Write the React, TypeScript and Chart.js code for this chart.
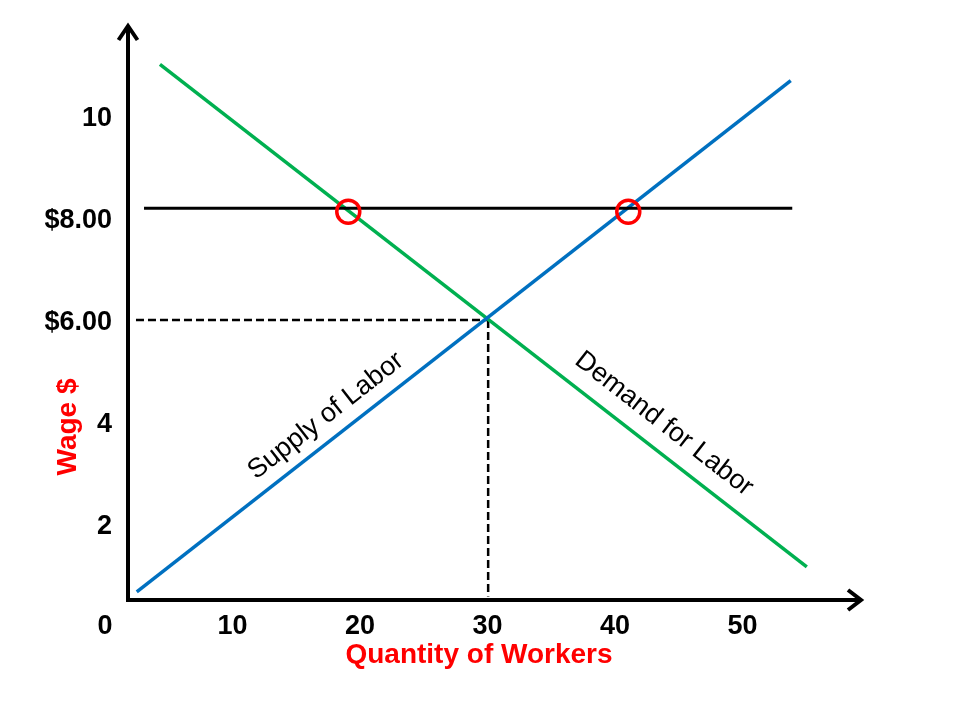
import React, { useEffect, useRef } from "react";
import { Chart, registerables } from "chart.js";

Chart.register(...registerables);

// ---- tick labels ----
const xTickValues = [0, 10, 20, 30, 40, 50];
const xTickLabels = ["0", "10", "20", "30", "40", "50"];
const yTickValues = [2, 4, 6, 8, 10];
const yTickLabels = ["2", "4", "$6.00", "$8.00", "10"];

// ---- series ----
const supplyX = [2.49, 53.78];
const supplyY = [0.69, 10.71];
const demandX = [4.31, 55.04];
const demandY = [11.03, 1.18];
const minWageX = [3.06, 53.9];
const minWageY = [8.21, 8.21];
const eqGuideHX = [2.43, 30.05];
const eqGuideHY = [6.02, 6.02];
const eqGuideVX = [30.05, 30.05];
const eqGuideVY = [6.02, 0.6];
const markerX = [19.08, 41.04];
const markerY = [8.14, 8.14];

// ---- text ----
const xTitle = "Quantity of Workers";
const yTitle = "Wage $";
const supplyLabel = "Supply of Labor";
const demandLabel = "Demand for Labor";

const X_MIN = 1.804;
const X_MAX = 59.37;
const Y_MIN = 0.53;
const Y_MAX = 11.8;

const FONT = '"Liberation Sans", Arial, Helvetica, sans-serif';
const BLUE = "#0070C0";
const GREEN = "#00B050";
const RED = "#FF0000";

const pts = (xs: number[], ys: number[]) => xs.map((x, i) => ({ x, y: ys[i] }));

const overlay = {
  id: "overlay",
  afterDraw(chart: any) {
    const { ctx, chartArea: a, scales } = chart;
    const sx = scales.x;
    const sy = scales.y;
    ctx.save();
    // axes
    ctx.strokeStyle = "#000";
    ctx.lineWidth = 4;
    ctx.lineCap = "butt";
    ctx.lineJoin = "miter";
    ctx.beginPath();
    ctx.moveTo(a.left, a.top + 1);
    ctx.lineTo(a.left, a.bottom);
    ctx.lineTo(a.right - 1, a.bottom);
    ctx.stroke();
    // arrow heads
    ctx.beginPath();
    ctx.moveTo(a.left - 9.5, a.top + 15);
    ctx.lineTo(a.left, a.top + 1);
    ctx.lineTo(a.left + 9.5, a.top + 15);
    ctx.moveTo(a.right - 14, a.bottom - 10);
    ctx.lineTo(a.right - 1, a.bottom);
    ctx.lineTo(a.right - 14, a.bottom + 10);
    ctx.stroke();

    // axis titles
    ctx.fillStyle = RED;
    ctx.font = `bold 28px ${FONT}`;
    ctx.textAlign = "center";
    ctx.textBaseline = "middle";
    ctx.fillText(xTitle, 479, 655);
    ctx.save();
    ctx.translate(68, 427);
    ctx.rotate(-Math.PI / 2);
    ctx.fillText(yTitle, 0, 0);
    ctx.restore();

    // line labels, rotated along their lines
    const drawAlong = (text: string, xs: number[], ys: number[], cx: number, cy: number) => {
      const x1 = sx.getPixelForValue(xs[0]);
      const y1 = sy.getPixelForValue(ys[0]);
      const x2 = sx.getPixelForValue(xs[1]);
      const y2 = sy.getPixelForValue(ys[1]);
      let ang = Math.atan2(y2 - y1, x2 - x1);
      if (ang > Math.PI / 2) ang -= Math.PI;
      if (ang < -Math.PI / 2) ang += Math.PI;
      ctx.save();
      ctx.translate(sx.getPixelForValue(cx), sy.getPixelForValue(cy));
      ctx.rotate(ang);
      ctx.fillStyle = "#000";
      ctx.font = `27px ${FONT}`;
      ctx.textAlign = "center";
      ctx.textBaseline = "middle";
      ctx.fillText(text, 0, 0);
      ctx.restore();
    };
    drawAlong(supplyLabel, supplyX, supplyY, 17.33, 4.14);
    drawAlong(demandLabel, demandX, demandY, 43.84, 3.98);
    ctx.restore();
  },
};

export default function App() {
  const ref = useRef<HTMLCanvasElement | null>(null);
  useEffect(() => {
    if (!ref.current) return;
    const tickFont = { family: FONT, size: 27, weight: "bold" as const };
    const chart = new Chart(ref.current, {
      type: "scatter",
      data: {
        datasets: [
          {
            label: "Markers",
            data: pts(markerX, markerY),
            showLine: false,
            pointRadius: 11.5,
            pointHoverRadius: 11.5,
            pointBorderWidth: 3.5,
            pointBorderColor: RED,
            pointBackgroundColor: "rgba(0,0,0,0)",
            order: 0,
          },
          {
            label: "Minimum wage",
            data: pts(minWageX, minWageY),
            showLine: true,
            borderColor: "#000",
            borderWidth: 3,
            pointRadius: 0,
            order: 1,
          },
          {
            label: "Supply of Labor",
            data: pts(supplyX, supplyY),
            showLine: true,
            borderColor: BLUE,
            borderWidth: 3.5,
            pointRadius: 0,
            order: 2,
          },
          {
            label: "Demand for Labor",
            data: pts(demandX, demandY),
            showLine: true,
            borderColor: GREEN,
            borderWidth: 3.5,
            pointRadius: 0,
            order: 3,
          },
          {
            label: "Guide H",
            data: pts(eqGuideHX, eqGuideHY),
            showLine: true,
            borderColor: "#000",
            borderWidth: 2.5,
            borderDash: [8, 4],
            pointRadius: 0,
            order: 4,
          },
          {
            label: "Guide V",
            data: pts(eqGuideVX, eqGuideVY),
            showLine: true,
            borderColor: "#000",
            borderWidth: 2.5,
            borderDash: [8, 4],
            pointRadius: 0,
            order: 4,
          },
        ],
      },
      options: {
        responsive: false,
        animation: false,
        devicePixelRatio: 1,
        events: [],
        layout: { padding: { left: 0, top: 25, right: 98, bottom: 0 } },
        plugins: { legend: { display: false }, tooltip: { enabled: false } },
        scales: {
          x: {
            type: "linear",
            min: X_MIN,
            max: X_MAX,
            grid: { display: false, drawTicks: false },
            border: { display: false },
            afterBuildTicks: (s: any) => {
              s.ticks = xTickValues.map((v) => ({ value: v }));
            },
            afterFit: (s: any) => {
              s.height = 120;
              s.paddingLeft = 0;
              s.paddingRight = 0;
              s.paddingTop = 0;
              s.paddingBottom = 0;
            },
            ticks: {
              autoSkip: false,
              maxRotation: 0,
              padding: 10,
              color: "#000",
              font: tickFont,
              callback: (_v: any, i: number) => xTickLabels[i],
            },
          },
          y: {
            type: "linear",
            min: Y_MIN,
            max: Y_MAX,
            grid: { display: false, drawTicks: false },
            border: { display: false },
            afterBuildTicks: (s: any) => {
              s.ticks = yTickValues.map((v) => ({ value: v }));
            },
            afterFit: (s: any) => {
              s.width = 128;
              s.paddingLeft = 0;
              s.paddingRight = 0;
              s.paddingTop = 0;
              s.paddingBottom = 0;
            },
            ticks: {
              autoSkip: false,
              padding: 16,
              labelOffset: 2,
              color: "#000",
              font: tickFont,
              callback: (_v: any, i: number) => yTickLabels[i],
            },
          },
        },
      },
      plugins: [overlay],
    });
    return () => chart.destroy();
  }, []);

  return (
    <div style={{ position: "absolute", left: 0, top: 0, width: 960, height: 720, background: "#fff" }}>
      <canvas ref={ref} width={960} height={720} style={{ display: "block" }} />
    </div>
  );
}
